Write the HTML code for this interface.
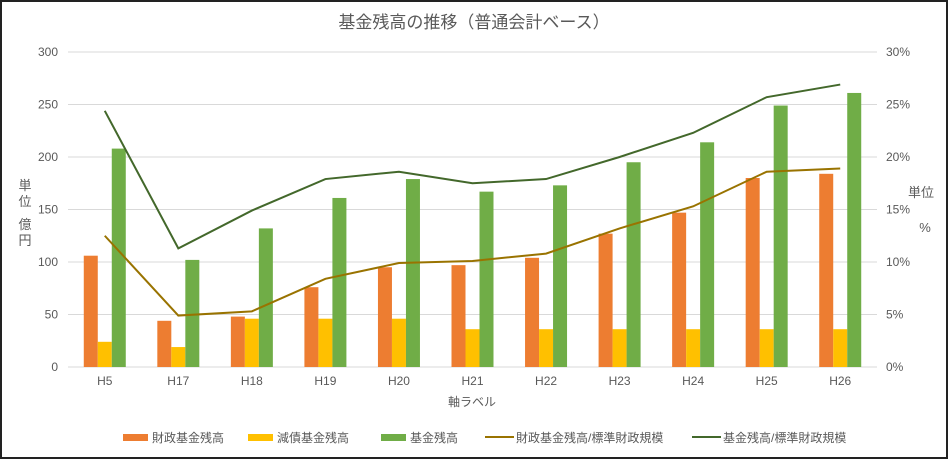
<!DOCTYPE html>
<html><head><meta charset="utf-8"><style>
body{margin:0;background:#fff;}
svg text{font-family:"Liberation Sans","Noto Sans CJK JP",sans-serif;fill:#595959;}
</style></head><body>
<svg id="chart" width="948" height="459" xmlns="http://www.w3.org/2000/svg">
<rect x="1" y="1" width="946" height="457" fill="#fff" stroke="#222" stroke-width="2"/>
<text x="474" y="28" text-anchor="middle" font-size="17">基金残高の推移（普通会計ベース）</text>
<g id="grid"></g><g id="bars"></g><g id="lines"></g><g id="axes"></g>
<g font-size="13">
<text x="25" y="190" text-anchor="middle">単</text><text x="25" y="206" text-anchor="middle">位</text>
<text x="25" y="229" text-anchor="middle">億</text><text x="25" y="245" text-anchor="middle">円</text></g>
<g font-size="13">
<text x="921" y="197" text-anchor="middle">単位</text><text x="925" y="232" text-anchor="middle">%</text></g>
<text x="472" y="406" text-anchor="middle" font-size="12">軸ラベル</text>
<g id="legend" font-size="12"></g>
</svg>
<script>
const categories=["H5","H17","H18","H19","H20","H21","H22","H23","H24","H25","H26"];
const zaiseiFund=[106,44,48,76,95,97,104,127,147,180,184];
const gensaiFund=[24,19,46,46,46,36,36,36,36,36,36];
const totalFund=[208,102,132,161,179,167,173,195,214,249,261];
const zaiseiRatio=[12.5,4.9,5.3,8.4,9.9,10.1,10.8,13.2,15.3,18.6,18.9];
const totalRatio=[24.4,11.3,14.9,17.9,18.6,17.5,17.9,20.0,22.3,25.7,26.9];
const leftTicks=[0,50,100,150,200,250,300];
const rightTicks=[0,5,10,15,20,25,30];
const NS="http://www.w3.org/2000/svg";
const x0=68,x1=877,yB=367,yT=52;
const step=(x1-x0)/categories.length;
const xc=i=>x0+step*(i+0.5);
const yL=v=>yB-(v/300)*(yB-yT);
const yR=v=>yB-(v/30)*(yB-yT);
function mk(tag,attrs,parent){const e=document.createElementNS(NS,tag);for(const k in attrs)e.setAttribute(k,attrs[k]);document.getElementById(parent).appendChild(e);return e;}
leftTicks.forEach((t,i)=>{
 const l=mk('line',{x1:x0,x2:x1,y1:yL(t),y2:yL(t),stroke:'#d9d9d9','stroke-width':1},'grid');
 
 
 const a=mk('text',{x:58,y:yL(t)+4,'text-anchor':'end','font-size':12},'axes');a.textContent=t;
 
 
 const b=mk('text',{x:886,y:yR(rightTicks[i])+4,'font-size':12},'axes');b.textContent=rightTicks[i]+'%';
 
 
});
const bw=14;
const series=[[zaiseiFund,'#ed7d31','bar-zaisei'],[gensaiFund,'#ffc000','bar-gensai'],[totalFund,'#70ad47','bar-total']];
categories.forEach((c,i)=>{
 series.forEach((s,j)=>{
  const v=s[0][i];
  const r=mk('rect',{x:xc(i)-21+j*bw,y:yL(v),width:bw,height:yB-yL(v),fill:s[1]},'bars');
  
  
 });
 const t=mk('text',{x:xc(i),y:385,'text-anchor':'middle','font-size':12},'axes');t.textContent=c;
 
 
});
[[zaiseiRatio,'#997300','line-zaisei-ratio'],[totalRatio,'#43682b','line-total-ratio']].forEach(s=>{
 const p=mk('polyline',{points:s[0].map((v,i)=>xc(i)+','+yR(v)).join(' '),fill:'none',stroke:s[1],'stroke-width':2},'lines');
 
 
});
const leg=[['財政基金残高','#ed7d31','rect',123],['減債基金残高','#ffc000','rect',248],['基金残高','#70ad47','rect',381],['財政基金残高/標準財政規模','#997300','line',485],['基金残高/標準財政規模','#43682b','line',692]];
leg.forEach(l=>{
 const g=mk('g',{},'legend');
 
 
 const e=document.createElementNS(NS,l[2]==='rect'?'rect':'line');
 if(l[2]==='rect'){e.setAttribute('x',l[3]);e.setAttribute('y',434);e.setAttribute('width',25);e.setAttribute('height',7);e.setAttribute('fill',l[1]);}
 else{e.setAttribute('x1',l[3]);e.setAttribute('x2',l[3]+29);e.setAttribute('y1',437);e.setAttribute('y2',437);e.setAttribute('stroke',l[1]);e.setAttribute('stroke-width',2);}
 g.appendChild(e);
 const t=document.createElementNS(NS,'text');t.setAttribute('x',l[3]+(l[2]==='rect'?29:31));t.setAttribute('y',442);t.textContent=l[0];g.appendChild(t);
});
</script>
</body></html>
